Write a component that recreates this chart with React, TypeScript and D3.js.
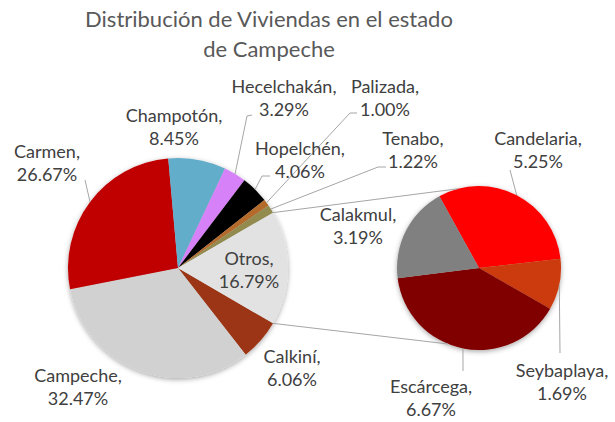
import React from "react";
import * as d3 from "d3";

// Main pie (clockwise, starting right after "Otros")
const mainNames = ["Calkiní", "Campeche", "Carmen", "Champotón", "Hecelchakán", "Hopelchén", "Palizada", "Tenabo", "Otros"];
const mainValues = [6.06, 32.47, 26.67, 8.45, 3.29, 4.06, 1.0, 1.22, 16.79];
const mainColors = ["#9c3612", "#d1d1d1", "#c00000", "#62adc9", "#d681f7", "#000000", "#b36a2c", "#938a4e", "#e2e2e2"];

// Secondary pie ("Otros" split)
const subNames = ["Candelaria", "Seybaplaya", "Escárcega", "Calakmul"];
const subValues = [5.25, 1.69, 6.67, 3.19];
const subColors = ["#ff0000", "#cc3a0c", "#800000", "#808080"];

const titleLines = ["Distribución de Viviendas en el estado", "de Campeche"];

// label placement (center x, first baseline) and optional leader elbow
const labelPos: Record<string, { x: number; y: number; elbow?: [number, number][] }> = {
  Calkiní: { x: 292, y: 363 },
  Campeche: { x: 78, y: 382 },
  Carmen: { x: 47, y: 158, elbow: [[85, 180]] },
  Champotón: { x: 174, y: 122 },
  Hecelchakán: { x: 284, y: 93, elbow: [[247, 116], [252, 115]] },
  Hopelchén: { x: 300, y: 155, elbow: [[262, 176], [270, 176]] },
  Palizada: { x: 385, y: 93, elbow: [[350, 113], [357, 113]] },
  Tenabo: { x: 413, y: 145, elbow: [[378, 167], [386, 167]] },
  Otros: { x: 249, y: 265 },
  Candelaria: { x: 538, y: 145, elbow: [[510, 170]] },
  Seybaplaya: { x: 562, y: 377, elbow: [[560, 353]] },
  Escárcega: { x: 431, y: 393, elbow: [[463, 371]] },
  Calakmul: { x: 358, y: 221 },
};

const W = 615;
const H = 422;
const FONT = "Lato, 'DejaVu Sans', sans-serif";

const main = { cx: 178, cy: 268, r: 110 };
const sub = { cx: 479, cy: 268, r: 82 };
const deg = Math.PI / 180;

const onCircle = (c: { cx: number; cy: number }, r: number, a: number): [number, number] => [
  c.cx + r * Math.sin(a),
  c.cy - r * Math.cos(a),
];

export default function App() {
  const total = d3.sum(mainValues);
  const otrosAngle = (mainValues[mainValues.length - 1] / total) * 2 * Math.PI;
  const start = Math.PI / 2 + otrosAngle / 2;

  const mainArcs = d3
    .pie<number>()
    .sort(null)
    .startAngle(start)
    .endAngle(start + 2 * Math.PI)(mainValues);

  const subStart = -28.9 * deg;
  const subArcs = d3
    .pie<number>()
    .sort(null)
    .startAngle(subStart)
    .endAngle(subStart + 2 * Math.PI)(subValues);

  const arcMain = d3.arc<d3.PieArcDatum<number>>().innerRadius(0).outerRadius(main.r);
  const arcSub = d3.arc<d3.PieArcDatum<number>>().innerRadius(0).outerRadius(sub.r);

  const otros = mainArcs[mainArcs.length - 1];
  const p1 = onCircle(main, main.r, otros.startAngle);
  const p2 = onCircle(main, main.r, otros.endAngle);
  const q1 = onCircle(sub, sub.r, -15 * deg);
  const q2 = onCircle(sub, sub.r, 202 * deg);

  const leader = (name: string, from: [number, number]) => {
    const lp = labelPos[name];
    if (!lp.elbow) return null;
    const pts = [from, ...lp.elbow];
    return (
      <path
        key={"l-" + name}
        d={d3.line()(pts) || ""}
        fill="none"
        stroke="#a6a6a6"
        strokeWidth={1}
      />
    );
  };

  const label = (name: string, value: number) => {
    const lp = labelPos[name];
    return (
      <text key={"t-" + name} x={lp.x} y={lp.y} textAnchor="middle" fontSize={18} fill="#404040" fontFamily={FONT}>
        <tspan x={lp.x}>{name},</tspan>
        <tspan x={lp.x} dy={23}>
          {value.toFixed(2)}%
        </tspan>
      </text>
    );
  };

  return (
    <svg width={W} height={H} style={{ position: "absolute", left: 0, top: 0, background: "#fff" }}>
      <defs>
        <filter id="shadow" x="-20%" y="-20%" width="140%" height="140%">
          <feDropShadow dx={0} dy={1.5} stdDeviation={2.5} floodColor="#000" floodOpacity={0.35} />
        </filter>
      </defs>

      {titleLines.map((t, i) => (
        <text key={t} x={269} y={27 + i * 30} textAnchor="middle" fontSize={22} fill="#595959" fontFamily={FONT}>
          {t}
        </text>
      ))}

      <g transform={`translate(${main.cx},${main.cy})`} filter="url(#shadow)">
        {mainArcs.map((a, i) => (
          <path key={mainNames[i]} d={arcMain(a) || ""} fill={mainColors[i]} />
        ))}
      </g>
      <g transform={`translate(${sub.cx},${sub.cy})`} filter="url(#shadow)">
        {subArcs.map((a, i) => (
          <path key={subNames[i]} d={arcSub(a) || ""} fill={subColors[i]} />
        ))}
      </g>

      <line x1={p1[0]} y1={p1[1]} x2={q1[0]} y2={q1[1]} stroke="#a6a6a6" strokeWidth={1} />
      <line x1={p2[0]} y1={p2[1]} x2={q2[0]} y2={q2[1]} stroke="#a6a6a6" strokeWidth={1} />

      {mainArcs.map((a, i) => leader(mainNames[i], onCircle(main, main.r, (a.startAngle + a.endAngle) / 2)))}
      {subArcs.map((a, i) => leader(subNames[i], onCircle(sub, sub.r, (a.startAngle + a.endAngle) / 2)))}

      {mainArcs.map((a, i) => label(mainNames[i], mainValues[i]))}
      {subArcs.map((a, i) => label(subNames[i], subValues[i]))}
    </svg>
  );
}
